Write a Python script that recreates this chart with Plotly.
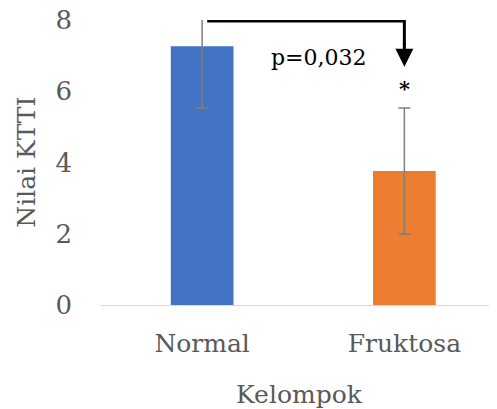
import plotly.graph_objects as go

categories = ["Normal", "Fruktosa"]
values = [7.26, 3.76]
errors = [1.74, 1.77]
bar_colors = ["#4472C4", "#ED7D31"]
y_ticks = [0, 2, 4, 6, 8]
y_title = "Nilai KTTI"
x_title = "Kelompok"
p_label = "p=0,032"
sig_label = "*"

FONT = "DejaVu Serif"
GRAY = "#595959"

fig = go.Figure()
fig.add_trace(go.Bar(
    x=categories, y=values,
    marker=dict(color=bar_colors, line=dict(width=0)),
    width=0.31,
    error_y=dict(type="data", array=errors, visible=True,
                 color="#7f7f7f", thickness=1.5, width=6),
))

# bracket with arrow
fig.add_shape(type="path", path="M 0.025,7.975 L 1,7.975 L 1,7.3",
              xref="x", yref="y", line=dict(color="black", width=3))
fig.add_annotation(x=1, y=6.69, ax=1, ay=7.4, xref="x", yref="y",
                   axref="x", ayref="y", showarrow=True, text="",
                   arrowhead=2, arrowsize=1.2, arrowwidth=3, arrowcolor="black")
fig.add_annotation(x=0.58, y=6.95, text=p_label, showarrow=False,
                   font=dict(family=FONT, size=22, color="black"))
fig.add_annotation(x=1, y=6.08, text="<b>" + sig_label + "</b>", showarrow=False,
                   font=dict(family=FONT, size=21, color="black"))

# y-axis title as a rotated annotation (axis title would be pinned to the figure edge)
fig.add_annotation(x=-0.189, y=0.5, xref="paper", yref="paper", text=y_title,
                   textangle=-90, showarrow=False, xanchor="center", yanchor="middle",
                   font=dict(family=FONT, size=25, color=GRAY))

# page body has an 8px margin; margins compensate so the plot area lands where the reference has it
fig.update_layout(
    width=497, height=409,
    margin=dict(l=93, r=8, t=12, b=112),
    plot_bgcolor="white", paper_bgcolor="white",
    showlegend=False,
)
fig.update_xaxes(
    range=[-0.5, 1.458], showgrid=False, showline=True, linecolor="#d9d9d9",
    linewidth=1, ticks="", ticklabelstandoff=16, automargin=False,
    tickfont=dict(family=FONT, size=25, color=GRAY),
    title=dict(text=x_title, font=dict(family=FONT, size=25, color=GRAY), standoff=28),
)
fig.update_yaxes(
    range=[0, 8], tickvals=y_ticks, showgrid=False, showline=False, zeroline=False,
    ticks="", ticklabelstandoff=28, automargin=False, ticklabeloverflow="allow",
    tickfont=dict(family=FONT, size=26, color=GRAY),
)

fig.write_html("out.html")
